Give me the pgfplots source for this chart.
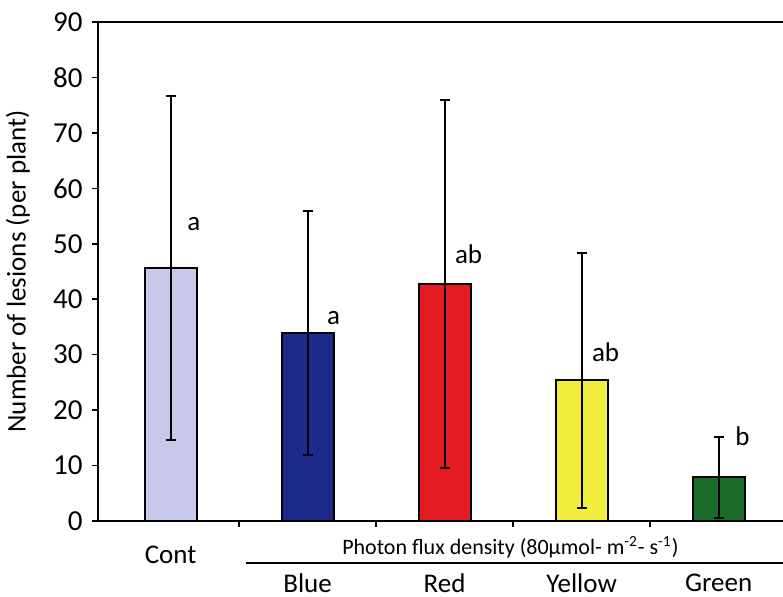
\documentclass[border=0pt]{standalone}
\usepackage{fontspec}
\setmainfont{Carlito}
\usepackage{pgfplots}
\pgfplotsset{compat=1.18}

\definecolor{cCont}{HTML}{C8C8EC}
\definecolor{cBlue}{HTML}{1C2A8A}
\definecolor{cRed}{HTML}{E51B24}
\definecolor{cYellow}{HTML}{F2EE3E}
\definecolor{cGreen}{HTML}{1B6B2A}

\begin{document}
\fontsize{13.5}{16}\selectfont
\begin{tikzpicture}
\begin{axis}[
  name=ax,
  scale only axis,
  width=342.5pt, height=249.5pt,
  xmin=-0.53, xmax=4.47,
  ymin=0, ymax=90,
  ytick={0,10,...,90},
  xtick={0.5,1.5,2.5,3.5},
  xticklabels={},
  axis x line*=bottom,
  axis y line*=left,
  axis line style={line width=1pt, -},
  major tick length=3pt,
  tick style={line width=0.8pt, black},
  y tick style={xshift=-3pt},
  /pgf/number format/assume math mode=true,
  yticklabel style={font=\fontsize{14.5}{17}\selectfont, xshift=-3pt},
  ybar, bar width=26pt, bar shift=0pt,
  every axis plot/.append style={draw=black, line width=0.9pt},
  error bars/y dir=both, error bars/y explicit,
  error bars/error mark options={rotate=90, mark size=2.5pt, line width=1pt},
  error bars/error bar style={line width=1pt, black},
  clip=false,
]
\addplot[fill=cCont] coordinates {(0,45.6) +- (0,31.0)};
\addplot[fill=cBlue] coordinates {(1,33.9) +- (0,22.0)};
\addplot[fill=cRed] coordinates {(2,42.7) +- (0,33.2)};
\addplot[fill=cYellow] coordinates {(3,25.4) +- (0,23.0)};
\addplot[fill=cGreen] coordinates {(4,7.9) +- (0,7.3)};

\node at (axis cs:0.17,53.6) {a};
\node at (axis cs:1.19,36.6) {a};
\node at (axis cs:2.175,48.2) {ab};
\node at (axis cs:3.175,30.5) {ab};
\node at (axis cs:4.175,15.2) {b};

\node[rotate=90, font=\fontsize{13.5}{16}\selectfont] at ([xshift=-40pt]rel axis cs:0,0.5) {Number of lesions (per plant)};
\node at ([yshift=-17pt]axis cs:0,0) {Cont};
\node at ([yshift=-13pt]axis cs:2.48,0) {\fontsize{11}{13}\selectfont Photon flux density (80µmol- m\textsuperscript{-2}- s\textsuperscript{-1})};
\draw[line width=0.6pt] ([yshift=-21pt]axis cs:0.55,0) -- ([yshift=-21pt]axis cs:4.47,0);
\node[inner sep=1pt] at ([yshift=-31pt]axis cs:1,0) {Blue};
\node[inner sep=1pt] at ([yshift=-31pt]axis cs:2,0) {Red};
\node[inner sep=1pt] at ([yshift=-31pt]axis cs:3,0) {Yellow};
\node[inner sep=1pt] at ([yshift=-31pt]axis cs:4,0) {Green};
\draw[line width=1pt] (rel axis cs:0,1) -- (rel axis cs:1,1);
\end{axis}
\pgfresetboundingbox
\path ([xshift=-49pt,yshift=-38pt]ax.south west) rectangle ([yshift=11pt]ax.north east);
\end{tikzpicture}
\end{document}
